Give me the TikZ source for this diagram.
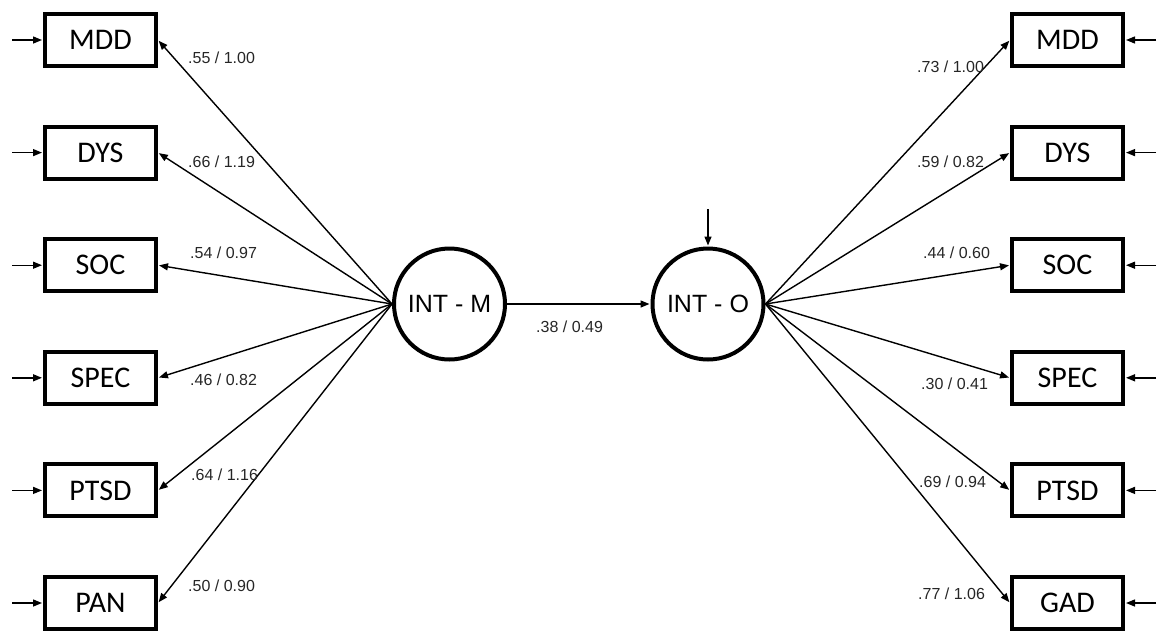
\documentclass[tikz,border=0pt]{standalone}
\usepackage{fontspec}
\setmainfont{Carlito}
\newfontfamily\labelfont{Liberation Sans}
\usetikzlibrary{arrows.meta}
\tikzset{
  indicator/.style={draw, line width=4pt, minimum width=111pt, minimum height=52pt,
    inner sep=0pt, font=\fontsize{30}{32}\selectfont},
  latent/.style={draw, circle, line width=4pt, minimum size=111pt, inner sep=0pt,
    font=\labelfont\fontsize{25}{28}\selectfont},
  path arrow/.style={line width=1.4pt, -{Triangle[length=9pt,width=7pt]}, shorten >=1pt},
  coef/.style={font=\labelfont\fontsize{16}{18}\selectfont, text=black!85, inner sep=0pt, anchor=west}
}
\begin{document}
\begin{tikzpicture}[x=1pt,y=-1pt]
\useasboundingbox (0,0) rectangle (1157,633);

% latent factors
\node[latent] (M) at (449.5,304) {INT - M};
\node[latent] (O) at (708,304) {INT - O};

% left indicators
\foreach \name/\txt/\yy in {lm1/MDD/40, lm2/DYS/152.6, lm3/SOC/265.2, lm4/SPEC/377.8, lm5/PTSD/490.4, lm6/PAN/603}{
  \node[indicator] (\name) at (100.5,\yy) {\txt};
  \coordinate (\name e) at (12,\yy);
  \draw[path arrow] (\name e) -- (\name.west);
  \draw[path arrow] (M.west) -- (\name.east);
}

% right indicators
\foreach \name/\txt/\yy in {rm1/MDD/40, rm2/DYS/152.6, rm3/SOC/265.2, rm4/SPEC/377.8, rm5/PTSD/490.4, rm6/GAD/603}{
  \node[indicator] (\name) at (1067.5,\yy) {\txt};
  \coordinate (\name e) at (1156,\yy);
  \draw[path arrow] (\name e) -- (\name.east);
  \draw[path arrow] (O.east) -- (\name.west);
}

% structural path and disturbance
\draw[path arrow] (M.east) -- (O.west);
\coordinate (dist) at (708,209);
\draw[path arrow] (dist) -- (O.north);

% loadings
\node[coef] at (188,58) {.55 / 1.00};
\node[coef] at (188,162) {.66 / 1.19};
\node[coef] at (190,253) {.54 / 0.97};
\node[coef] at (190,380) {.46 / 0.82};
\node[coef] at (191,475) {.64 / 1.16};
\node[coef] at (188,586) {.50 / 0.90};

\node[coef] at (917,67) {.73 / 1.00};
\node[coef] at (917,162) {.59 / 0.82};
\node[coef] at (923,253) {.44 / 0.60};
\node[coef] at (921,384) {.30 / 0.41};
\node[coef] at (919,482) {.69 / 0.94};
\node[coef] at (918,594) {.77 / 1.06};

\node[coef] at (536,327) {.38 / 0.49};
\end{tikzpicture}
\end{document}
